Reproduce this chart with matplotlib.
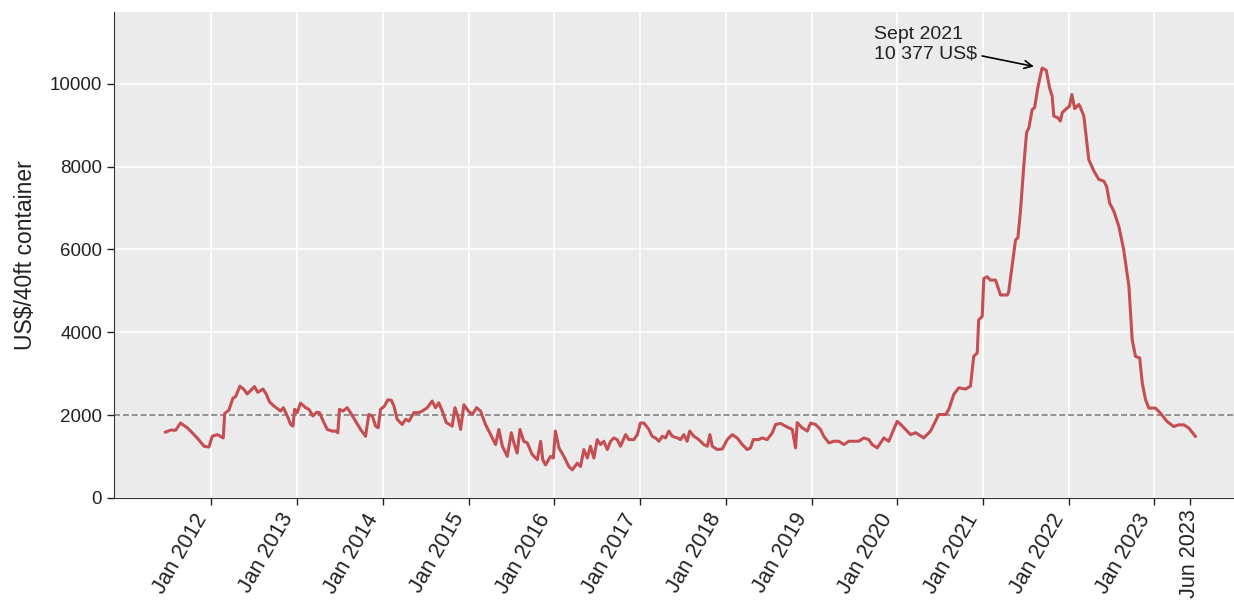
import matplotlib
matplotlib.use("Agg")
import matplotlib.pyplot as plt
import pandas as pd

# weekly-ish readings of the composite freight rate (US$ per 40ft container)
dates = [
    "2011-06-20", "2011-07-12", "2011-08-02", "2011-08-23", "2011-09-21", "2011-11-02",
    "2011-12-01", "2011-12-22", "2012-01-05", "2012-01-27", "2012-02-21", "2012-02-27",
    "2012-03-16", "2012-04-02", "2012-04-14", "2012-05-02", "2012-05-19", "2012-06-02",
    "2012-06-16", "2012-07-03", "2012-07-17", "2012-08-08", "2012-08-22", "2012-09-05",
    "2012-09-24", "2012-10-22", "2012-11-03", "2012-11-20", "2012-12-04", "2012-12-14",
    "2012-12-21", "2013-01-01", "2013-01-15", "2013-02-06", "2013-02-20", "2013-03-09",
    "2013-03-25", "2013-04-06", "2013-04-22", "2013-05-09", "2013-05-30", "2013-06-14",
    "2013-06-23", "2013-06-30", "2013-07-15", "2013-08-02", "2013-08-16", "2013-09-07",
    "2013-09-28", "2013-10-19", "2013-11-02", "2013-11-17", "2013-12-01", "2013-12-12",
    "2013-12-22", "2014-01-08", "2014-01-22", "2014-02-06", "2014-02-17", "2014-03-03",
    "2014-03-24", "2014-04-08", "2014-04-22", "2014-05-13", "2014-06-03", "2014-06-18",
    "2014-07-09", "2014-07-30", "2014-08-13", "2014-08-27", "2014-09-11", "2014-09-28",
    "2014-10-23", "2014-11-04", "2014-11-16", "2014-11-28", "2014-12-12", "2014-12-31",
    "2015-01-17", "2015-02-04", "2015-02-21", "2015-03-14", "2015-04-05", "2015-04-26",
    "2015-05-10", "2015-05-25", "2015-06-15", "2015-07-02", "2015-07-13", "2015-07-27",
    "2015-08-08", "2015-08-24", "2015-09-08", "2015-09-29", "2015-10-21", "2015-11-04",
    "2015-11-13", "2015-11-25", "2015-12-16", "2015-12-28", "2016-01-06", "2016-01-21",
    "2016-02-11", "2016-03-03", "2016-03-18", "2016-04-08", "2016-04-22", "2016-05-06",
    "2016-05-21", "2016-06-03", "2016-06-18", "2016-07-02", "2016-07-16", "2016-07-30",
    "2016-08-14", "2016-08-28", "2016-09-11", "2016-09-25", "2016-10-09", "2016-10-31",
    "2016-11-14", "2016-12-05", "2016-12-20", "2017-01-02", "2017-01-17", "2017-02-07",
    "2017-02-21", "2017-03-07", "2017-03-22", "2017-04-05", "2017-04-19", "2017-05-03",
    "2017-05-18", "2017-06-08", "2017-06-22", "2017-07-06", "2017-07-20", "2017-07-31",
    "2017-08-18", "2017-09-08", "2017-09-29", "2017-10-14", "2017-10-25", "2017-11-04",
    "2017-11-25", "2017-12-17", "2018-01-07", "2018-01-28", "2018-02-18", "2018-03-12",
    "2018-04-02", "2018-04-16", "2018-04-28", "2018-05-21", "2018-06-05", "2018-06-26",
    "2018-07-18", "2018-08-01", "2018-08-22", "2018-09-12", "2018-10-11", "2018-10-25",
    "2018-11-01", "2018-11-22", "2018-12-14", "2018-12-28", "2019-01-18", "2019-02-08",
    "2019-02-22", "2019-03-16", "2019-04-06", "2019-04-27", "2019-05-19", "2019-06-09",
    "2019-06-30", "2019-07-21", "2019-08-12", "2019-09-02", "2019-09-16", "2019-10-08",
    "2019-10-22", "2019-11-05", "2019-11-26", "2019-12-17", "2020-01-01", "2020-01-16",
    "2020-02-27", "2020-03-20", "2020-04-23", "2020-05-22", "2020-06-26", "2020-07-25",
    "2020-08-08", "2020-08-29", "2020-09-19", "2020-10-18", "2020-11-08", "2020-11-22",
    "2020-12-07", "2020-12-13", "2020-12-28", "2021-01-04", "2021-01-18", "2021-02-01",
    "2021-02-23", "2021-03-16", "2021-04-14", "2021-04-20", "2021-05-05", "2021-05-19",
    "2021-05-29", "2021-06-09", "2021-06-23", "2021-07-05", "2021-07-15", "2021-07-29",
    "2021-08-08", "2021-08-22", "2021-09-02", "2021-09-09", "2021-09-16", "2021-09-27",
    "2021-10-11", "2021-10-22", "2021-10-29", "2021-11-15", "2021-11-26", "2021-12-04",
    "2021-12-18", "2022-01-04", "2022-01-14", "2022-01-26", "2022-02-13", "2022-02-20",
    "2022-03-06", "2022-03-27", "2022-04-18", "2022-05-09", "2022-05-30", "2022-06-11",
    "2022-06-24", "2022-07-12", "2022-08-02", "2022-08-23", "2022-09-14", "2022-09-28",
    "2022-10-12", "2022-10-30", "2022-11-10", "2022-11-24", "2022-12-08", "2023-01-05",
    "2023-01-26", "2023-02-24", "2023-03-24", "2023-04-13", "2023-05-06", "2023-05-27",
    "2023-06-24",
]
rates = [
    1590, 1640, 1635, 1810, 1695, 1450,
    1250, 1230, 1490, 1530, 1450, 2040,
    2120, 2410, 2450, 2700, 2620, 2510,
    2590, 2690, 2550, 2630, 2510, 2320,
    2220, 2100, 2180, 1980, 1775, 1735,
    2140, 2060, 2290, 2180, 2140, 1980,
    2070, 2060, 1855, 1655, 1615, 1615,
    1575, 2140, 2100, 2180, 2060, 1855,
    1655, 1490, 2015, 1980, 1735, 1695,
    2140, 2220, 2370, 2360, 2220, 1900,
    1775, 1900, 1855, 2060, 2060, 2100,
    2180, 2340, 2180, 2300, 2100, 1820,
    1735, 2180, 1980, 1655, 2250, 2100,
    2015, 2180, 2100, 1775, 1530, 1290,
    1655, 1250, 1005, 1575, 1330, 1085,
    1655, 1370, 1330, 1050, 925, 1370,
    925, 800, 1005, 965, 1615, 1210,
    1005, 760, 680, 840, 760, 1170,
    965, 1250, 965, 1410, 1290, 1370,
    1170, 1370, 1450, 1410, 1250, 1530,
    1410, 1410, 1530, 1810, 1810, 1655,
    1490, 1450, 1370, 1490, 1450, 1615,
    1490, 1450, 1410, 1530, 1370, 1615,
    1490, 1410, 1290, 1250, 1530, 1250,
    1170, 1185, 1410, 1530, 1450, 1290,
    1170, 1210, 1410, 1410, 1450, 1410,
    1575, 1775, 1800, 1735, 1655, 1210,
    1820, 1695, 1615, 1810, 1775, 1655,
    1490, 1330, 1370, 1370, 1290, 1370,
    1370, 1370, 1450, 1410, 1290, 1210,
    1330, 1450, 1370, 1655, 1850, 1775,
    1530, 1575, 1450, 1615, 2015, 2015,
    2140, 2500, 2660, 2630, 2700, 3420,
    3500, 4300, 4380, 5300, 5340, 5260,
    5260, 4900, 4900, 4980, 5630, 6230,
    6280, 6920, 8000, 8820, 8940, 9380,
    9420, 9900, 10200, 10377, 10361, 10322,
    9900, 9700, 9220, 9180, 9100, 9300,
    9380, 9460, 9740, 9400, 9500, 9420,
    9220, 8170, 7890, 7690, 7650, 7520,
    7120, 6920, 6560, 5990, 5110, 3820,
    3420, 3380, 2770, 2370, 2170, 2170,
    2050, 1845, 1725, 1765, 1765, 1690,
    1490,
]

reference_level = 2000
peak_date = "2021-09-09"
peak_rate = 10377
peak_text = "Sept 2021\n10 377 US$"
peak_text_pos = ("2019-09-22", 10950)
year_ticks = pd.date_range("2012-01-01", "2023-01-01", freq="YS")
year_labels = ["Jan %d" % d.year for d in year_ticks]
last_tick = pd.Timestamp("2023-06-01")
last_label = "Jun 2023"

plt.rcParams["font.family"] = ["Liberation Sans", "DejaVu Sans"]

fig = plt.figure(figsize=(12.34, 6.04), dpi=100)
ax = fig.add_axes([0.0924, 0.1755, 0.918, 0.8045])
ax.set_facecolor("#EBEBEB")

ax.plot(pd.to_datetime(dates), rates, color="#C44E52", lw=2.2, zorder=3)
ax.axhline(reference_level, color="#808080", ls="--", lw=1.2, zorder=2)

ax.set_ylim(0, 11730)
ax.set_yticks(range(0, 10001, 2000))
ax.set_ylabel("US$/40ft container", fontsize=16.5, color="#222222", labelpad=9)

ax.set_xticks(year_ticks)
ax.set_xticklabels(year_labels, rotation=60, ha="right", fontsize=15.5)
ax.set_xticks([last_tick], minor=True)
ax.set_xticklabels([last_label], minor=True, rotation=90, fontsize=15.5)

ax.tick_params(axis="y", labelsize=13.5)
ax.tick_params(which="both", length=5, width=1, colors="#222222")

ax.grid(True, which="major", color="white", lw=1.2)
ax.set_axisbelow(True)
for side in ["top", "right"]:
    ax.spines[side].set_visible(False)
for side in ["left", "bottom"]:
    ax.spines[side].set_color("#333333")

ax.annotate(peak_text, xy=(pd.Timestamp(peak_date), peak_rate),
            xytext=(pd.Timestamp(peak_text_pos[0]), peak_text_pos[1]),
            ha="left", va="center", fontsize=14, color="#222222",
            arrowprops=dict(arrowstyle="->", color="black", lw=1.2, shrinkB=6))

fig.savefig("out.png", dpi=100)
